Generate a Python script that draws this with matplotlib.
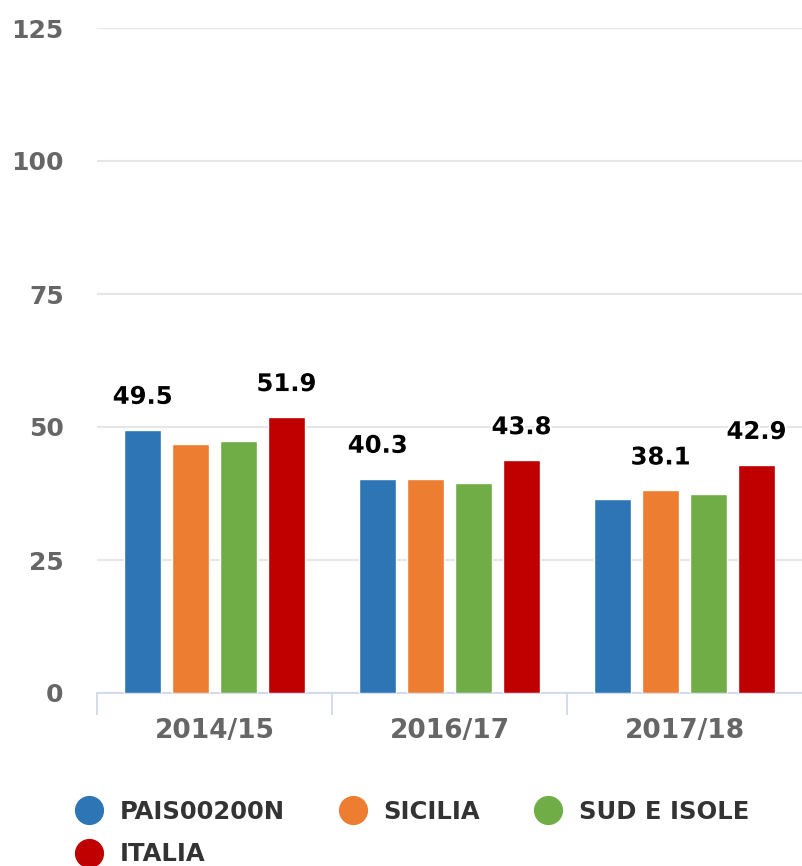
import matplotlib
matplotlib.use("Agg")
import matplotlib.pyplot as plt
from matplotlib.lines import Line2D
import matplotlib.patheffects as pe
import numpy as np

categories = ["2014/15", "2016/17", "2017/18"]
series_names = ["PAIS00200N", "SICILIA", "SUD E ISOLE", "ITALIA"]
pais = [49.5, 40.3, 36.4]
sicilia = [46.8, 40.2, 38.1]
sud = [47.3, 39.5, 37.4]
italia = [51.9, 43.8, 42.9]
# which bars show a data label
show_pais = [True, True, False]
show_sicilia = [False, False, True]
show_sud = [False, False, False]
show_italia = [True, True, True]
colors = ["#2e75b6", "#ed7d31", "#70ad47", "#c00000"]
yticks = [0, 25, 50, 75, 100, 125]

series = [pais, sicilia, sud, italia]
shows = [show_pais, show_sicilia, show_sud, show_italia]

W, H = 802, 866
fig = plt.figure(figsize=(W / 100, H / 100), dpi=100)
ax = fig.add_axes([97 / W, 1 - 693 / H, 1 - 97 / W, (693 - 28) / H])

x = np.arange(len(categories))
step = 0.204
bw = 0.157
for i, (vals, col, show) in enumerate(zip(series, colors, shows)):
    pos = x + (i - 1.5) * step
    ax.bar(pos, vals, width=bw, color=col, edgecolor="white", linewidth=1, zorder=3)
    for p, v, s in zip(pos, vals, show):
        if s:
            ax.annotate(f"{v:.1f}", (p, v), xytext=(0, 15), textcoords="offset points",
                        ha="center", va="bottom", fontsize=17.5, fontweight="bold",
                        color="black", zorder=5,
                        path_effects=[pe.withStroke(linewidth=3, foreground="white")])

ax.set_xlim(-0.5, len(categories) - 0.5)
ax.set_ylim(0, 125)
ax.set_yticks(yticks)
ax.set_yticklabels([str(t) for t in yticks])
ax.yaxis.grid(True, color="#e6e6e6", linewidth=1.5, zorder=0)
ax.tick_params(axis="y", length=0, pad=24, labelsize=18, labelcolor="#666666")
for lab in ax.get_yticklabels():
    lab.set_fontweight("bold")

ax.set_xticks(x)
ax.set_xticklabels(categories)
ax.set_xticks(np.arange(-0.5, len(categories) - 0.5, 1.0), minor=True)
ax.tick_params(axis="x", which="major", length=0, pad=18, labelsize=19, labelcolor="#666666")
ax.tick_params(axis="x", which="minor", length=16, width=1.2, color="#ccd6eb")
for lab in ax.get_xticklabels():
    lab.set_fontweight("bold")

for s in ["top", "right", "left"]:
    ax.spines[s].set_visible(False)
ax.spines["bottom"].set_color("#ccd6eb")
ax.spines["bottom"].set_linewidth(1.2)
ax.set_axisbelow(True)

handles = [Line2D([], [], marker="o", linestyle="none", markersize=20,
                  markerfacecolor=c, markeredgecolor=c) for c in colors]
order = [0, 3, 1, 2]
leg = fig.legend([handles[i] for i in order], [series_names[i] for i in order],
                 ncol=3, loc="upper left", bbox_to_anchor=(75 / W, 1 - 800 / H),
                 frameon=False, prop={"size": 17.5, "weight": "bold"},
                 handletextpad=0.7, columnspacing=2.2, labelspacing=0.75,
                 handlelength=1.15, borderaxespad=0, borderpad=0)
for t in leg.get_texts():
    t.set_color("#333333")

fig.savefig("out.png", dpi=100)
